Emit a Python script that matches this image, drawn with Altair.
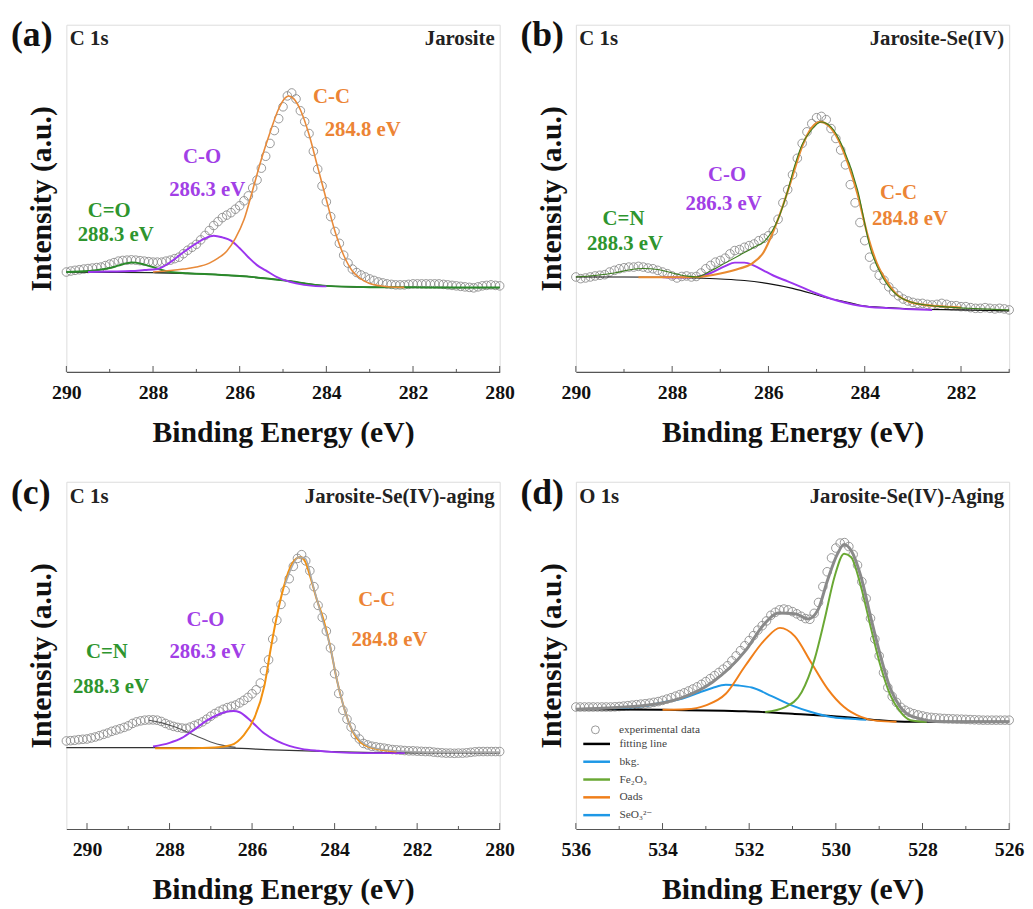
import altair as alt
import numpy as np
import pandas as pd

FONT = "Liberation Serif, Times New Roman, DejaVu Serif, serif"
W, H = 438, 351

ORANGE = "#EC8435"
PURPLE = "#A23FE6"
GREEN = "#2E952E"
CIRC = "#8c8c8c"

# ---------------- (a) Jarosite, C 1s ----------------
A_E = np.round(np.arange(290.0, 279.95, -0.1), 1)
A_EXP = [101, 102, 102.7, 103.3, 104, 104.5, 105, 105.5, 106, 107.5,
         109, 110.5, 112, 112.7, 113, 113.3, 113, 112.5, 112, 111.5,
         111, 111, 111, 112, 113, 114.5, 116, 119.5, 123, 126,
         129, 133.5, 138, 143, 148, 152, 156, 158.5, 161, 164.5,
         168, 173, 178, 186, 194, 206, 218, 231, 244, 256,
         268, 279, 282, 276, 264, 253, 241, 223, 205, 188,
         172, 157, 142, 130, 118, 110, 104, 100.5, 98, 96,
         94, 92.5, 91, 90, 89, 88.5, 88, 88, 88, 88.5,
         89, 89, 89, 89, 89, 89, 89, 88.5, 88, 87.5,
         87, 86.5, 86, 85.5, 85, 86, 87, 87.5, 88, 87.5,
         87]
A_BKG_E = [290, 289, 288, 287, 286.5, 286, 285.5, 285, 284.5, 284, 283.5, 283, 282, 281, 280]
A_BKG_I = [101, 100.7, 100.3, 99.3, 98.3, 97, 95, 92.7, 89.5, 87, 86, 85.7, 85.5, 85.3, 85.3]
A_CEO_E = [290, 289.5, 289, 288.8, 288.6, 288.5, 288.4, 288.2, 288, 287.8, 287.6, 287.2, 286.5, 286,
           285, 284, 283, 282, 281, 280]
A_CEO_I = [101, 102, 105, 107.5, 110, 110.7, 110.5, 108.5, 106, 103, 101, 99.8, 98.3, 97,
           92.7, 87, 85.7, 85.5, 85.3, 85.3]
A_CO_E = [289.5, 289, 288.5, 288.2, 287.9, 287.6, 287.3, 287.0, 286.8, 286.6, 286.4, 286.2, 286.0,
          285.8, 285.6, 285.4, 285.1, 284.7, 284.3, 284]
A_CO_I = [101, 101.5, 102, 103, 104, 111, 121, 130, 135, 137.7, 136, 132.7, 125,
          116, 108, 102.7, 95, 89.5, 87, 86.5]
A_CC_E = [288, 287.6, 287.3, 287, 286.7, 286.5, 286.3, 286.1, 285.9, 285.7, 285.5, 285.3, 285.1,
          284.95, 284.87, 284.75, 284.6, 284.4, 284.2, 284.0, 283.8, 283.6, 283.4, 283.2, 283.0,
          282.6, 282.2]
A_CC_I = [101, 102.5, 104, 106, 110, 115, 122, 135, 154, 184, 215, 242, 266,
          277, 279, 276, 265, 240, 207, 174, 142, 118, 102, 94, 89.3,
          86.2, 85.5]
A_LAB_T = ["C-C", "284.8 eV", "C-O", "286.3 eV", "C=O", "288.3 eV"]
A_LAB_E = [283.88, 283.16, 286.87, 286.75, 289.01, 288.86]
A_LAB_I = [277.7, 244, 217, 184, 163, 138]
A_LAB_C = [ORANGE, ORANGE, PURPLE, PURPLE, GREEN, GREEN]

# ---------------- (b) Jarosite-Se(IV), C 1s ----------------
B_E = np.round(np.arange(290.0, 280.95, -0.1), 1)
B_EXP = [96, 94.3, 95, 96, 97, 97.7, 98.3, 101, 102.7, 104.3,
         105.3, 106, 106, 106.7, 106, 105, 104.3, 102.7, 101, 99.3,
         97, 95, 96.5, 97, 96, 96.5, 100, 104.3, 107.7, 111,
         112.7, 115, 119.3, 122.7, 123.7, 126, 127.7, 129.3, 132.7, 135,
         137.7, 142.7, 154.3, 171, 184.3, 199.3, 216, 231, 242.7, 251,
         257, 258.3, 255, 246, 236, 224.3, 209.3, 189.3, 171, 151,
         132.7, 116, 106, 97.7, 92.7, 86, 81, 77, 73.7, 71.7,
         70.3, 69.3, 69.3, 68.3, 67.7, 68.3, 69.3, 68.3, 67, 67,
         66, 66, 65, 64.3, 64.3, 65, 64.3, 63.7, 64.3, 63.7,
         62.7]
B_BKG_E = [290, 289, 288, 287.5, 287, 286.5, 286, 285.5, 285.1, 284.8, 284.4, 284.1, 283.5, 283, 282, 281]
B_BKG_I = [96, 96, 95.7, 95, 94, 92.5, 89.3, 84.5, 79.3, 75, 71, 67.5, 65, 63.7, 62.7, 61.7]
B_CO_E = [288.2, 287.8, 287.5, 287.2, 286.9, 286.7, 286.5, 286.3, 286.1, 285.9, 285.6, 285.3, 285.0,
          284.7, 284.4, 284.1, 283.5, 283, 282.6]
B_CO_I = [95.7, 95.5, 96, 100, 107, 110.5, 110.5, 107.5, 102.5, 97.5, 91.5, 85.5, 79.3,
          74, 70, 67, 64.5, 63.3, 62.7]
B_CC_E = [288.7, 288, 287.5, 287.0, 286.6, 286.35, 286.1, 285.9, 285.7, 285.5, 285.3, 285.1, 284.92,
          284.75, 284.55, 284.35, 284.15, 283.95, 283.75, 283.55, 283.35, 283.1, 282.8, 282.5, 282]
B_CC_I = [95.7, 95.7, 96, 99.5, 104.5, 109.3, 121, 142, 168, 198, 228, 247, 252.7,
          249, 235, 211, 180, 140, 110, 92, 79, 71.5, 68, 66.5, 65]
B_FIT_E = [290, 289.6, 289.2, 288.9, 288.6, 288.3, 288.0, 287.7, 287.5, 287.2,
           286.9, 286.6, 286.3, 286.07, 285.8, 285.6, 285.46, 285.3, 285.11, 284.91,
           284.7, 284.43, 284.15, 283.88, 283.61, 283.33, 283.06, 282.7, 282.38, 281.7, 281]
B_FIT_I = [96, 97.5, 100, 103, 104.5, 103.5, 100, 97, 96, 102,
           110, 118, 126, 132.7, 154.3, 183, 207.7, 230, 244.3, 252.7,
           247.7, 224.3, 184.3, 124.3, 94.3, 77.7, 71, 67.5, 66, 64, 62.7]
B_LAB_T = ["C-O", "286.3 eV", "C=N", "288.3 eV", "C-C", "284.8 eV"]
B_LAB_E = [286.86, 286.93, 289.01, 288.98, 283.30, 283.06]
B_LAB_I = [199.3, 169.3, 154.3, 129.3, 181, 154.3]
B_LAB_C = [PURPLE, PURPLE, GREEN, GREEN, ORANGE, ORANGE]

# ---------------- (c) Jarosite-Se(IV)-aging, C 1s ----------------
C_E = np.round(np.arange(290.5, 279.95, -0.1), 1)
C_EXP = [89, 89.3, 89.7, 90.3, 90.7,
         91, 92, 93, 94.3, 95.7, 97, 98.7, 100, 101.3, 102.7,
         104.3, 106.7, 108.3, 109.3, 110, 110.3, 110.3, 110, 108.7, 106.7,
         105, 103.7, 102.7, 102, 101.7, 103, 104.7, 106.3, 108.3, 111,
         114, 116.7, 119, 121, 122.7, 124, 125.3, 127.5, 130, 133,
         136.7, 140.7, 147.5, 160, 171, 192, 211, 227, 241, 253,
         265.5, 273.5, 277.3, 271, 261, 245, 226, 214, 200, 183,
         157, 137, 120, 111, 103, 95.5, 91, 86.5, 85, 83.7,
         83, 82.3, 81.7, 81, 80.3, 80, 79.7, 79.3, 79, 79,
         78.7, 78.5, 78.3, 78.3, 77.7, 77.3, 77, 76.7, 76.7, 76.5,
         76.7, 76.7, 77, 77.5, 78, 78.3, 78.3, 78.3, 78.3, 78.3,
         78.3]
C_BKG_E = [290.5, 288, 286.5, 285.5, 284.1, 283, 282, 280]
C_BKG_I = [82.3, 82.3, 81.7, 80, 78.3, 77.3, 77, 77]
C_CN_E = [288.5, 288.2, 287.9, 287.6, 287.3, 287.0, 286.7, 286.4]
C_CN_I = [110, 107.5, 103.5, 98.5, 93, 88, 84.5, 82.5]
C_CO_E = [288.4, 288.0, 287.7, 287.4, 287.1, 286.8, 286.6, 286.45, 286.3, 286.0, 285.7, 285.4, 285.1,
          284.8, 284.4, 284.0, 283.3, 282.3]
C_CO_I = [83.3, 87, 92, 100.5, 109.5, 116, 118.7, 119.3, 118, 108, 96.5, 89, 84,
          81, 79, 77.7, 76.7, 76.7]
C_CC_E = [288.35, 287.5, 286.9, 286.5, 286.2, 285.95, 285.7, 285.55, 285.4, 285.23, 285.03, 284.83,
          284.71, 284.59, 284.43, 284.27, 284.11, 283.95, 283.79, 283.63, 283.39, 283.07, 282.5]
C_CC_I = [81.7, 81.7, 82.3, 85, 95, 111.7, 145, 181.7, 215, 245, 268.3, 275,
          270, 255, 231.7, 211.7, 185, 151.7, 125, 105, 88.3, 81.7, 78.3]
C_FIT_E = [285.2, 285.0, 284.87, 284.71, 284.51, 284.27, 284.11, 283.95, 283.79, 283.63, 283.39,
           283.07, 282.51, 281.72, 280]
C_FIT_I = [247, 268, 275, 273.3, 244.3, 208.3, 185, 151.7, 125, 105, 90,
           82.3, 79, 77.7, 77.7]
C_LAB_T = ["C-O", "286.3 eV", "C=N", "288.3 eV", "C-C", "284.8 eV"]
C_LAB_E = [287.13, 287.08, 289.52, 289.42, 282.98, 282.67]
C_LAB_I = [211, 179, 179, 143, 231.7, 190.7]
C_LAB_C = [PURPLE, PURPLE, GREEN, GREEN, ORANGE, ORANGE]

# ---------------- (d) Jarosite-Se(IV)-Aging, O 1s ----------------
D_E = np.round(np.arange(536.0, 525.95, -0.1), 1)
D_EXP = [123.3, 123.3, 123.3, 123.3, 123.3, 123.3, 123.3, 123.3, 123.3, 123.5,
         123.8, 124.2, 124.7, 125.2, 125.7, 126.2, 126.6, 127.2, 128, 128.8,
         130, 131.3, 132.7, 134.3, 135.9, 137.6, 139.5, 141.5, 143.7, 146.2,
         149, 152, 155, 158.2, 161.5, 165, 170, 175, 180.3, 185.3,
         190.5, 195.5, 201, 205.5, 210.3, 216, 219, 221.5, 222.3, 221.5,
         219.7, 217.5, 215, 212.7, 212, 218, 229, 245, 260, 274,
         284, 289, 289.5, 285.5, 277.5, 266.7, 250, 233, 213, 192,
         175, 158, 143, 134, 128, 123, 120, 118, 116.5, 115.3,
         114.3, 113.3, 112.8, 112.4, 112, 111.7, 111.5, 111.3, 111.1, 111,
         110.8, 110.6, 110.4, 110.2, 110, 110, 110, 110, 110, 110,
         110]
D_FIT_E = [536, 534.37, 533.61, 532.85, 532.09, 531.63, 531.33, 530.95, 530.64, 530.41, 530.19,
           529.96, 529.81, 529.65, 529.42, 529.2, 528.97, 528.74, 528.51, 528.21, 527.52, 526]
D_FIT_I = [121, 125, 131.7, 148.3, 180, 208.3, 218.3, 217.7, 212.3, 221.7, 251.7,
           278.3, 287.7, 281.7, 255, 215, 175, 141.7, 123.3, 113.3, 108.3, 108.3]
D_BKG_E = [536, 534, 532.09, 531, 529.81, 529.04, 528.28, 526]
D_BKG_I = [121, 120.5, 119, 116.5, 113.3, 110, 108.3, 108.3]
D_SE_E = [535.13, 534.37, 533.99, 533.61, 533.15, 532.85, 532.54, 532.24, 531.94, 531.48, 531.02,
          530.57, 530.11, 529.73, 529.3]
D_SE_I = [122, 124.5, 128, 131, 138, 142.5, 145.7, 145, 143, 134.3, 125,
          118.3, 113.3, 111.7, 110.3]
D_OADS_E = [534.0, 533.46, 533.0, 532.54, 532.09, 531.63, 531.29, 530.95, 530.57, 530.19, 529.81,
            529.42, 529.04, 528.6]
D_OADS_I = [120.5, 121, 125, 136.7, 165, 191.7, 203.3, 195, 168.3, 141.7, 123.3,
            113.3, 109.3, 108.5]
D_FE_E = [531.63, 531.17, 530.79, 530.49, 530.26, 530.03, 529.81, 529.65, 529.42, 529.2, 528.97,
          528.74, 528.51, 528.28, 527.9]
D_FE_I = [118.3, 123.3, 138.3, 171.7, 211.7, 255, 278.3, 275, 245, 205, 165,
          135, 118.3, 110, 108.3]
LEG_NAMES = ["fitting line", "bkg.", "Fe\u2082O\u2083", "Oads", "SeO\u2083\u00b2\u207b"]
LEG_COLORS = ["#000000", "#1E98E6", "#6AA834", "#F07F1A", "#1E98E6"]


def panel(letter, left_txt, right_txt, dom, majors, minors, exp_E, exp_I,
          curves, labels=None, dlines=None):
    xs = alt.Scale(domain=dom, reverse=True, nice=False, zero=False)
    ys = alt.Scale(domain=[0, H], nice=False, zero=False)
    xax = alt.Axis(values=majors, format="d", title="Binding Energy (eV)", ticks=False, grid=False,
                   labelFont=FONT, labelFontSize=20, labelFontWeight="bold", labelColor="#111",
                   labelPadding=11, labelOverlap=False, labelFlush=False,
                   titleFont=FONT, titleFontSize=30, titleFontWeight="bold", titleColor="#111",
                   titlePadding=15, domainColor="#555", domainWidth=1.2)
    yax = alt.Axis(title="Intensity (a.u.)", labels=False, ticks=False, grid=False, domain=False,
                   titleFont=FONT, titleFontSize=30, titleFontWeight="bold", titleColor="#111",
                   titlePadding=10)
    X = alt.X("E:Q", scale=xs, axis=xax)
    Y = alt.Y("I:Q", scale=ys, axis=yax)
    layers = []

    exp_df = pd.DataFrame({"E": exp_E, "I": exp_I, "kind": "experimental data"})
    enc = dict(x=X, y=Y)
    if dlines is not None:
        enc["shape"] = alt.Shape("kind:N", scale=alt.Scale(domain=["experimental data"], range=["circle"]),
                                 legend=alt.Legend(orient="none", legendX=14, legendY=245, title=None,
                                                   symbolSize=64, symbolStrokeWidth=0.9,
                                                   symbolStrokeColor=CIRC, labelFont=FONT,
                                                   labelFontSize=11.5, labelColor="#444",
                                                   labelOffset=18, padding=0))
    layers.append(alt.Chart(exp_df).mark_point(shape="circle", filled=False, size=75, color=CIRC,
                                               strokeWidth=0.9, opacity=1).encode(**enc))

    for (ce, ci, col, sw) in curves:
        df = pd.DataFrame({"E": ce, "I": ci})
        layers.append(alt.Chart(df).mark_line(interpolate="monotone", color=col, strokeWidth=sw)
                      .encode(x=X, y=Y))

    if dlines is not None:
        rows = []
        for name, ce, ci in dlines:
            rows += [{"E": e, "I": v, "series": name} for e, v in zip(ce, ci)]
        ddf = pd.DataFrame(rows)
        layers.append(alt.Chart(ddf).mark_line(interpolate="monotone", strokeWidth=2).encode(
            x=X, y=Y, detail="series:N",
            color=alt.Color("series:N", scale=alt.Scale(domain=LEG_NAMES, range=LEG_COLORS),
                            legend=alt.Legend(orient="none", legendX=15, legendY=259, title=None,
                                              symbolType="M-3,0H3", symbolSize=81, symbolStrokeWidth=2.5,
                                              labelFont=FONT, labelFontSize=11.5, labelColor="#444",
                                              rowPadding=6, labelOffset=17, padding=0))))
        layers.append(alt.Chart(pd.DataFrame({"E": D_FIT_E, "I": D_FIT_I}))
                      .mark_line(interpolate="monotone", color="#8a8a8a", strokeWidth=3)
                      .encode(x=X, y=Y))

    if labels is not None:
        lt, le, li, lc = labels
        ldf = pd.DataFrame({"E": le, "I": li, "t": lt, "c": lc})
        layers.append(alt.Chart(ldf).mark_text(font=FONT, fontSize=21, fontWeight="bold",
                                               align="center", baseline="middle")
                      .encode(x=X, y=Y, text="t:N", color=alt.Color("c:N", scale=None)))

    tmaj = pd.DataFrame({"E": majors})
    tmin = pd.DataFrame({"E": minors})
    layers.append(alt.Chart(tmaj).mark_rule(color="#555", strokeWidth=1)
                  .encode(x=X, y=alt.value(H), y2=alt.value(H - 6)))
    layers.append(alt.Chart(tmin).mark_rule(color="#555", strokeWidth=1)
                  .encode(x=X, y=alt.value(H), y2=alt.value(H - 3)))

    def txt(t, x, y, size, align, color="#111"):
        return alt.Chart(pd.DataFrame({"t": [t]})).mark_text(
            font=FONT, fontSize=size, fontWeight="bold", align=align, baseline="alphabetic",
            color=color).encode(x=alt.value(x), y=alt.value(y), text="t:N")

    layers.append(txt(letter, -56, 22, 36, "left"))
    layers.append(txt(left_txt, 3.5, 21, 21, "left", "#222"))
    layers.append(txt(right_txt, W - 5, 21, 21, "right", "#222"))

    return alt.layer(*layers).properties(width=W, height=H)


pa = panel("(a)", "C 1s", "Jarosite", [280, 290], [290, 288, 286, 284, 282, 280], [289, 287, 285, 283, 281],
           A_E, A_EXP,
           [(A_BKG_E, A_BKG_I, "#1f2f1f", 1.3),
            (A_CEO_E, A_CEO_I, "#2A8A2A", 2),
            (A_CO_E, A_CO_I, "#9B35EE", 2),
            (A_CC_E, A_CC_I, "#E88A3A", 1.6)],
           labels=(A_LAB_T, A_LAB_E, A_LAB_I, A_LAB_C))

pb = panel("(b)", "C 1s", "Jarosite-Se(IV)", [281, 290], [290, 288, 286, 284, 282], [289, 287, 285, 283, 281],
           B_E, B_EXP,
           [(B_BKG_E, B_BKG_I, "#111111", 1.1),
            (B_CO_E, B_CO_I, "#9B35EE", 2),
            (B_CC_E, B_CC_I, "#E88A30", 2.2),
            (B_FIT_E, B_FIT_I, "#3C7D1E", 1.1)],
           labels=(B_LAB_T, B_LAB_E, B_LAB_I, B_LAB_C))

pc = panel("(c)", "C 1s", "Jarosite-Se(IV)-aging", [280, 290.5], [290, 288, 286, 284, 282, 280],
           [289, 287, 285, 283, 281],
           C_E, C_EXP,
           [(C_BKG_E, C_BKG_I, "#333333", 1.3),
            (C_CN_E, C_CN_I, "#555555", 1.1),
            (C_CO_E, C_CO_I, "#9B35EE", 2),
            (C_CC_E, C_CC_I, "#F29111", 2),
            (C_FIT_E, C_FIT_I, "#aaaaaa", 1.6)],
           labels=(C_LAB_T, C_LAB_E, C_LAB_I, C_LAB_C))

pd_ = panel("(d)", "O 1s", "Jarosite-Se(IV)-Aging", [526, 536], [536, 534, 532, 530, 528, 526],
            [535, 533, 531, 529, 527],
            D_E, D_EXP, [],
            dlines=[("fitting line", D_BKG_E, D_BKG_I),
                    ("SeO\u2083\u00b2\u207b", D_SE_E, D_SE_I),
                    ("Oads", D_OADS_E, D_OADS_I),
                    ("Fe\u2082O\u2083", D_FE_E, D_FE_I)])

row1 = alt.hconcat(pa, pb, spacing=4).resolve_scale(color="independent", shape="independent") \
    .resolve_legend(color="independent", shape="independent")
row2 = alt.hconcat(pc, pd_, spacing=4).resolve_scale(color="independent", shape="independent") \
    .resolve_legend(color="independent", shape="independent")

chart = alt.vconcat(row1, row2, spacing=26).resolve_scale(
    color="independent", shape="independent"
).resolve_legend(color="independent", shape="independent").properties(
    padding={"left": 2, "top": 4, "right": 0, "bottom": 0}
).configure_view(stroke="#8c8c8c", strokeWidth=1).configure(background="white")

chart.save("out.html", embed_options={"renderer": "svg", "actions": False})
